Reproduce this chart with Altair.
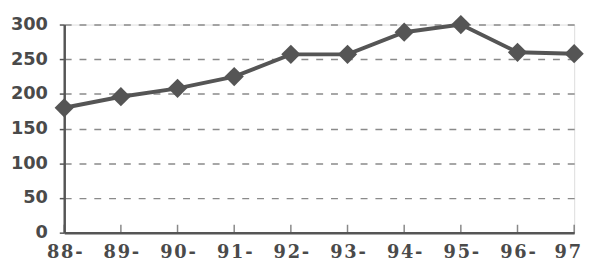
import altair as alt
import pandas as pd

years = ["88-", "89-", "90-", "91-", "92-", "93-", "94-", "95-", "96-", "97"]
values = [180, 196, 208, 225, 257, 257, 289, 300, 260, 258]
y_ticks = [0, 50, 100, 150, 200, 250, 300]

df = pd.DataFrame({"year": years, "value": values, "order": list(range(len(years)))})
df["base"] = 0

x_axis = alt.Axis(title=None, labelAngle=0, labelFont="DejaVu Serif",
                  labelFontSize=18, labelFontWeight="bold", labelColor="#4a4a4a",
                  labelPadding=11, domainColor="#555", domainWidth=2.5,
                  ticks=False, grid=False,
                  labelOffset={"condition": {"test": "datum.label == '97'", "value": -7}, "value": 0},
                  labelExpr="join(split(datum.label, ''), '\u200a')")
x_enc = alt.X("year:O", sort=years, scale=alt.Scale(type="point", padding=0), axis=x_axis)

y_axis = alt.Axis(title=None, values=y_ticks, labelOverlap=False,
                  labelFont="DejaVu Sans",
                  labelFontSize=18, labelFontWeight="bold", labelColor="#4a4a4a",
                  labelPadding=12, domainColor="#555", domainWidth=2.5,
                  tickColor="#555", tickSize=5, tickWidth=1.5,
                  grid=True, gridDash=[7, 8], gridColor="#8a8a8a", gridWidth=1.5)
y_scale = alt.Scale(domain=[0, 300], nice=False)

line = alt.Chart(df).mark_line(color="#555", strokeWidth=4).encode(
    x=x_enc, y=alt.Y("value:Q", scale=y_scale, axis=y_axis), order="order:Q")
ticks = alt.Chart(df).mark_tick(color="#555", size=8, thickness=1.5, yOffset=-4, orient="vertical").encode(
    x=x_enc, y=alt.Y("base:Q", scale=y_scale, axis=y_axis))
pts = alt.Chart(df).mark_point(shape="diamond", filled=True, color="#555", size=380, opacity=1).encode(
    x=x_enc, y=alt.Y("value:Q", scale=y_scale, axis=y_axis))

chart = alt.layer(line, ticks, pts).properties(
    width=517, height=211,
    autosize=alt.AutoSizeParams(type="none"),
    padding={"left": 57, "top": 15, "right": 12, "bottom": 30},
).configure_view(stroke="#555", strokeWidth=2.5).configure(background="white")

chart.save("out.html", embed_options={"renderer": "svg", "actions": False})
